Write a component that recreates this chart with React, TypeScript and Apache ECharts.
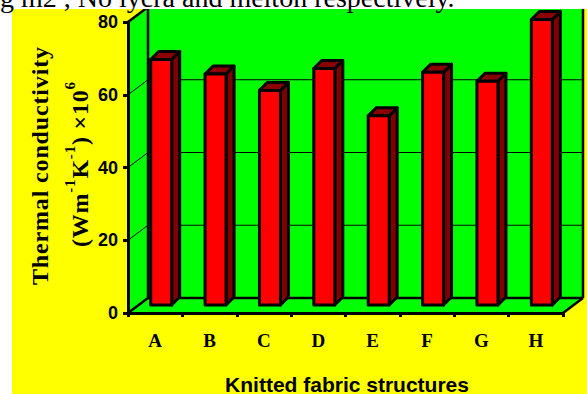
import React, { useEffect, useRef } from "react";
import * as echarts from "echarts";

// Fabric structures and their measured thermal conductivity (W m-1 K-1 x 10^6)
const categories = ["A", "B", "C", "D", "E", "F", "G", "H"];
const conductivity = [67.5, 63.5, 59, 65, 52, 64, 61.5, 78.5];
const gridValues = [20, 40, 60, 80];

const captionText = "g m2 , No lycra and melton respectively.";
const xTitle = "Knitted fabric structures";
const yTitleLine1 = [{ text: "Thermal conductivity" }];
const yTitleLine2 = [
  { text: "(Wm" },
  { text: "-1", sup: true },
  { text: "K" },
  { text: "-1", sup: true },
  { text: ") ×10" },
  { text: "6", sup: true },
];

// pseudo-3D geometry
const WALL_DX = 20;
const WALL_DY = -15;
const BAR_OFF_X = 6;
const BAR_OFF_Y = -8;
const BAR_W = 21;
const BAR_DX = 8;
const BAR_DY = -8;

const GREEN = "#00ff00";
const YELLOW = "#ffff00";

type Piece = { text: string; sup?: boolean };

// Lays out a rotated (bottom-to-top) title with even letter spacing
function spacedTitle(
  pieces: Piece[],
  size: number,
  supSize: number,
  length: number,
  x: number,
  y: number,
  supShift: number
) {
  const canvas = document.createElement("canvas");
  const ctx = canvas.getContext("2d")!;
  const chars: { ch: string; sup: boolean; w: number }[] = [];
  pieces.forEach((p) => {
    const fs = p.sup ? supSize : size;
    ctx.font = `bold ${fs}px "Liberation Serif"`;
    for (const ch of p.text) {
      chars.push({ ch, sup: !!p.sup, w: ctx.measureText(ch).width });
    }
  });
  const natural = chars.reduce((s, c) => s + c.w, 0);
  const gap = (length - natural) / (chars.length - 1);
  let cur = 0;
  const children = chars.map((c) => {
    const el = {
      type: "text",
      x: cur,
      y: c.sup ? supShift : 0,
      style: {
        text: c.ch,
        font: `bold ${c.sup ? supSize : size}px "Liberation Serif"`,
        fill: "#000",
        textAlign: "left",
        textVerticalAlign: "middle",
        verticalAlign: "middle",
      },
    };
    cur += c.w + gap;
    return el;
  });
  return { type: "group", x, y, rotation: Math.PI / 2, children };
}

export default function App() {
  const ref = useRef<HTMLDivElement>(null);

  useEffect(() => {
    if (!ref.current) return;
    const chart = echarts.init(ref.current, null, { renderer: "svg" });

    const wallSeries = {
      type: "custom",
      z: 1,
      silent: true,
      data: [[0, 0]],
      renderItem: (params: any, api: any) => {
        const cs = params.coordSys;
        const L = cs.x;
        const R = cs.x + cs.width;
        const B = api.coord([0, 0])[1];
        const T = api.coord([0, 80])[1];
        const edge = { stroke: "#000", lineWidth: 2.5 };
        const children: any[] = [
          {
            type: "polygon",
            shape: { points: [[L, B], [L, T], [L + WALL_DX, T + WALL_DY], [L + WALL_DX, B + WALL_DY]] },
            style: { fill: GREEN },
          },
          {
            type: "rect",
            shape: { x: L + WALL_DX, y: T + WALL_DY, width: R - L, height: B - T },
            style: { fill: GREEN },
          },
          {
            type: "polygon",
            shape: { points: [[L, B], [R, B], [R + WALL_DX, B + WALL_DY], [L + WALL_DX, B + WALL_DY]] },
            style: { fill: GREEN },
          },
        ];
        gridValues.forEach((v) => {
          const y = api.coord([0, v])[1];
          children.push({
            type: "line",
            shape: { x1: L + WALL_DX, y1: y + WALL_DY, x2: R + WALL_DX, y2: y + WALL_DY },
            style: { stroke: "#000", lineWidth: 1 },
          });
          children.push({
            type: "line",
            shape: { x1: L, y1: y, x2: L + WALL_DX, y2: y + WALL_DY },
            style: { stroke: "#000", lineWidth: 1 },
          });
        });
        children.push(
          { type: "line", shape: { x1: L + WALL_DX, y1: T + WALL_DY, x2: L + WALL_DX, y2: B + WALL_DY }, style: edge },
          { type: "line", shape: { x1: R + WALL_DX, y1: T + WALL_DY, x2: R + WALL_DX, y2: B + WALL_DY }, style: edge },
          { type: "line", shape: { x1: L + WALL_DX, y1: B + WALL_DY, x2: R + WALL_DX, y2: B + WALL_DY }, style: edge },
          { type: "line", shape: { x1: L, y1: B, x2: L + WALL_DX, y2: B + WALL_DY }, style: edge },
          { type: "line", shape: { x1: R, y1: B, x2: R + WALL_DX, y2: B + WALL_DY }, style: edge },
          { type: "line", shape: { x1: L, y1: T, x2: L + WALL_DX, y2: T + WALL_DY }, style: edge }
        );
        return { type: "group", children };
      },
    };

    const barSeries = {
      type: "custom",
      z: 3,
      data: conductivity.map((v, i) => [i, v]),
      encode: { x: 0, y: 1 },
      renderItem: (params: any, api: any) => {
        const i = api.value(0);
        const v = api.value(1);
        const base = api.coord([i, 0]);
        const top = api.coord([i, v]);
        const cx = base[0] + BAR_OFF_X;
        const yb = base[1] + BAR_OFF_Y;
        const yt = top[1] + BAR_OFF_Y;
        const x0 = cx - BAR_W / 2;
        const x1 = cx + BAR_W / 2;
        const outline = { stroke: "#000", lineWidth: 3, lineJoin: "round" };
        return {
          type: "group",
          children: [
            {
              type: "polygon",
              shape: { points: [[x1, yt], [x1 + BAR_DX, yt + BAR_DY], [x1 + BAR_DX, yb + BAR_DY], [x1, yb]] },
              style: { fill: "#800000", ...outline },
            },
            {
              type: "polygon",
              shape: { points: [[x0, yt], [x0 + BAR_DX, yt + BAR_DY], [x1 + BAR_DX, yt + BAR_DY], [x1, yt]] },
              style: { fill: "#8b0000", ...outline },
            },
            {
              type: "rect",
              shape: { x: x0, y: yt, width: BAR_W, height: yb - yt },
              style: { fill: "#ff0000", ...outline },
            },
          ],
        };
      },
    };

    const option: any = {
      animation: false,
      backgroundColor: YELLOW,
      grid: { left: 128, right: 24, top: 22, bottom: 81, outerBoundsMode: "none" },
      xAxis: {
        type: "category",
        data: categories,
        z: 10,
        axisLine: { lineStyle: { color: "#000", width: 3 } },
        axisTick: { show: true, length: 4, lineStyle: { color: "#000", width: 3 } },
        axisLabel: {
          margin: 18,
          color: "#000",
          fontFamily: "Liberation Serif",
          fontWeight: "bold",
          fontSize: 19,
        },
        splitLine: { show: false },
      },
      yAxis: {
        type: "value",
        min: 0,
        max: 80,
        interval: 20,
        z: 10,
        axisLine: { show: true, lineStyle: { color: "#000", width: 3 } },
        axisTick: { show: true, length: 5, lineStyle: { color: "#000", width: 3 } },
        axisLabel: {
          margin: 10,
          color: "#000",
          fontFamily: "Liberation Sans",
          fontWeight: "bold",
          fontSize: 18,
        },
        splitLine: { show: false },
      },
      graphic: [
        { type: "rect", z: 100, shape: { x: 0, y: 0, width: 587, height: 9 }, style: { fill: "#fff" } },
        { type: "rect", z: 100, shape: { x: 0, y: 0, width: 12, height: 394 }, style: { fill: "#fff" } },
        {
          type: "text",
          z: 101,
          x: 0,
          y: -3,
          style: {
            text: captionText,
            font: '28px "Liberation Serif"',
            fill: "#000",
            textAlign: "left",
            textVerticalAlign: "middle",
            verticalAlign: "middle",
          },
        },
        {
          type: "text",
          z: 50,
          x: 347,
          y: 384,
          style: {
            text: xTitle,
            font: 'bold 21px "Liberation Sans"',
            fill: "#000",
            textAlign: "center",
            textVerticalAlign: "middle",
            verticalAlign: "middle",
          },
        },
        { ...spacedTitle(yTitleLine1, 24, 15, 238, 40, 285, -10), z: 50 },
        { ...spacedTitle(yTitleLine2, 24, 15, 165, 80, 247, -10), z: 50 },
      ],
      series: [wallSeries, barSeries],
    };

    chart.setOption(option);
    return () => chart.dispose();
  }, []);

  return (
    <div
      ref={ref}
      style={{ position: "fixed", left: 0, top: 0, width: 587, height: 394 }}
    />
  );
}
